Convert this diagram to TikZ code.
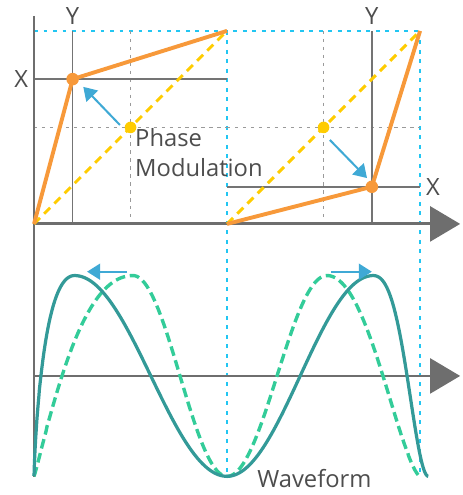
\documentclass[tikz,border=0pt]{standalone}
\usepackage{fontspec}
\setmainfont{Open Sans}
\usetikzlibrary{arrows.meta}
\definecolor{axisgray}{HTML}{6E6E6E}
\definecolor{linegray}{HTML}{747474}
\definecolor{dotgray}{HTML}{9A9A9A}
\definecolor{guidecyan}{HTML}{22C6F2}
\definecolor{saworange}{HTML}{F7993A}
\definecolor{sawyellow}{HTML}{FFCC00}
\definecolor{shiftblue}{HTML}{3FA9D5}
\definecolor{waveteal}{HTML}{339A98}
\definecolor{wavegreen}{HTML}{33CC99}
\definecolor{txtgray}{HTML}{4D4D4D}

\begin{document}
\begin{tikzpicture}[
    axis/.style={axisgray,line width=1.7pt,-{Triangle[length=0.62cm,width=0.72cm]}},
    guide/.style={guidecyan,line width=1pt,dash pattern=on 2.3pt off 3.3pt},
    gridline/.style={dotgray,line width=0.6pt,dash pattern=on 1.9pt off 2.8pt},
    markline/.style={linegray,line width=1pt},
    saw/.style={saworange,line width=2.3pt,line join=round},
    diag/.style={sawyellow,line width=1.7pt,dash pattern=on 5pt off 3.5pt},
    shiftarrow/.style={shiftblue,line width=1.2pt,-{Triangle[length=0.27cm,width=0.33cm]}},
    wave/.style={waveteal,line width=1.9pt,samples=100,smooth},
    wavedash/.style={wavegreen,line width=2pt,dash pattern=on 5.7pt off 2.8pt,samples=100,smooth},
    lbl/.style={text=txtgray,font=\fontsize{14}{17.7}\selectfont}
]
    \useasboundingbox (-0.705,-5.617) rectangle (8.87,4.64);

    % corners of the two phase ramps
    \coordinate (oA) at (0,0);
    \coordinate (tA) at (4,4);
    \coordinate (mA) at (2,2);
    \coordinate (pA) at (0.8,3);
    \coordinate (oB) at (4,0);
    \coordinate (tB) at (8,4);
    \coordinate (mB) at (6,2);
    \coordinate (pB) at (7,0.77);

    % guides
    \draw[guide] (0,4) -- (8,4);
    \draw[guide] (4,4) -- (4,-5.23);
    \draw[guide] (8,4) -- (8,-5.23);
    \draw[gridline] (2,4) -- (2,0);
    \draw[gridline] (0,2) -- (4,2);
    \draw[gridline] (6,4) -- (6,0);
    \draw[gridline] (4,2) -- (8,2);
    \draw[markline] (0.8,4) -- (0.8,0);
    \draw[markline] (0,3) -- (4,3);
    \draw[markline] (7,4) -- (7,0);
    \draw[markline] (4,0.77) -- (8,0.77);

    % axes
    \draw[axisgray,line width=1.7pt] (0,4.31) -- (0,-5.24);
    \draw[axis] (0,0) -- (8.83,0);
    \draw[axis] (0,-3.15) -- (8.83,-3.15);

    % phase ramps
    \draw[diag] (oA) -- (tA);
    \draw[diag] (oB) -- (tB);
    \draw[saw] (oA) -- (pA) -- (tA);
    \draw[saw] (oB) -- (pB) -- (tB);
    \fill[saworange] (pA) circle (0.13);
    \fill[saworange] (pB) circle (0.13);
    \fill[sawyellow] (mA) circle (0.12);
    \fill[sawyellow] (mB) circle (0.12);

    \coordinate (aA) at (1.78,2.05);
    \coordinate (bA) at (1.02,2.84);
    \coordinate (aB) at (6.13,1.74);
    \coordinate (bB) at (6.9,0.95);
    \draw[shiftarrow] (aA) -- (bA);
    \draw[shiftarrow] (aB) -- (bB);

    % waveforms
    \draw[wavedash]
    plot[domain=0.0001:2.05] (\x,{-3.15-2.08*cos(180*(\x/2.05)^0.549)})
    -- plot[domain=2.05:4] (\x,{-3.15-2.08*cos(180+180*(\x-2.05)/1.95)})
    -- plot[domain=4:6.07] (\x,{-3.15-2.08*cos(180*(\x-4)/2.07)})
    -- plot[domain=6.07:7.9999] (\x,{-3.15-2.08*cos(180*((8-\x)/1.93)^0.754)});

    \draw[wave]
    plot[domain=0.0001:0.84] (\x,{-3.15-2.08*cos(180*(\x/0.84)^0.392)})
    -- plot[domain=0.84:4] (\x,{-3.15-2.08*cos(180+180*(\x-0.84)/3.16)})
    -- plot[domain=4:7.03] (\x,{-3.15-2.08*cos(180*(\x-4)/3.03)})
    -- plot[domain=7.03:8.17] (\x,{-3.15-2.08*cos(180*(1-0.519*(\x-7.03)/1.14-0.481*((\x-7.03)/1.14)^2))});

    \coordinate (cA) at (1.93,-0.99);
    \coordinate (dA) at (1.1,-0.99);
    \coordinate (cB) at (6.16,-0.99);
    \coordinate (dB) at (7.0,-0.99);
    \draw[shiftarrow] (cA) -- (dA);
    \draw[shiftarrow] (cB) -- (dB);

    % labels
    \node[lbl,above] (yA) at (0.8,4) {Y};
    \node[lbl,above] (yB) at (7,4) {Y};
    \node[lbl,left] (xA) at (0,3) {X};
    \node[lbl,right] (xB) at (8,0.77) {X};
    \node[lbl,anchor=north west,align=left,inner sep=0pt] (pm) at (2.09,1.98) {Phase\\Modulation};
    \node[lbl,anchor=base west,inner sep=0pt] (wf) at (4.62,-5.47) {Waveform};
\end{tikzpicture}
\end{document}
